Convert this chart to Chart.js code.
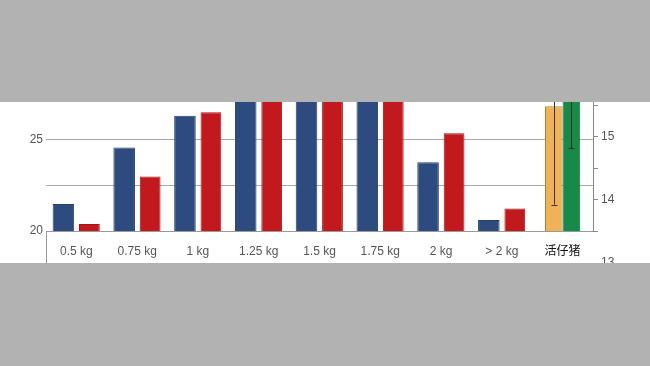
<!DOCTYPE html>
<html>
<head>
<meta charset="utf-8">
<script src="https://cdn.jsdelivr.net/npm/chart.js@4"></script>
<style>
  body { margin: 0; background: #fff; }
  #wrap { position: relative; width: 650px; height: 366px; overflow: hidden; }
  #grafico { position: absolute; left: 0; top: 0; }
  .banda { position: absolute; left: 0; width: 650px; background: #b2b2b2; z-index: 2; }
</style>
</head>
<body>
<div id="wrap">
  <canvas id="grafico" width="650" height="366"></canvas>
  <div class="banda" style="top:0;height:102px"></div>
  <div class="banda" style="top:263px;height:103px"></div>
</div>
<script>
// Datos
const categories = ['0.5 kg', '0.75 kg', '1 kg', '1.25 kg', '1.5 kg', '1.75 kg', '2 kg', '> 2 kg', '活仔猪'];
const blueValues = [21.48, 24.58, 26.33, 28.6, 28.9, 28.4, 23.77, 20.6, null];
const redValues = [20.38, 23.0, 26.52, 28.8, 28.7, 28.5, 25.37, 21.23, null];
const orangeValues = [null, null, null, null, null, null, null, null, 15.48];
const greenValues = [null, null, null, null, null, null, null, null, 15.9];
const orangeErrors = [null, null, null, null, null, null, null, null, 1.56];
const greenErrors = [null, null, null, null, null, null, null, null, 1.09];
const leftTickLabels = [20, 25];
const rightTickLabels = [13, 14, 15, 16];

const FONT = "'Liberation Sans', Arial, 'Noto Sans CJK SC', sans-serif";

// Barras de error dibujadas con la escala de cada dataset
const errorBars = {
    id: 'errorBars',
    afterDatasetsDraw(chart) {
        const ctx = chart.ctx;
        const area = chart.chartArea;
        chart.data.datasets.forEach((ds, di) => {
            if (!ds.errors) return;
            const meta = chart.getDatasetMeta(di);
            const scale = chart.scales[ds.yAxisID];
            meta.data.forEach((bar, i) => {
                const v = ds.data[i], e = ds.errors[i];
                if (v == null || e == null) return;
                const yHi = scale.getPixelForValue(v + e);
                const yLo = scale.getPixelForValue(v - e);
                const x = Math.round(bar.x) + 0.5;
                ctx.save();
                ctx.beginPath();
                ctx.rect(area.left, area.top, area.right - area.left, area.bottom - area.top);
                ctx.clip();
                ctx.strokeStyle = '#3a3020';
                ctx.lineWidth = 1;
                ctx.beginPath();
                ctx.moveTo(x, yHi); ctx.lineTo(x, yLo);
                ctx.moveTo(x - 3, Math.round(yLo) + 0.5); ctx.lineTo(x + 3, Math.round(yLo) + 0.5);
                ctx.moveTo(x - 3, Math.round(yHi) + 0.5); ctx.lineTo(x + 3, Math.round(yHi) + 0.5);
                ctx.stroke();
                ctx.restore();
            });
        });
    }
};

// El eje derecho sigue por debajo de la línea base hasta 13
const axisExtension = {
    id: 'axisExtension',
    afterDraw(chart) {
        const s = chart.scales.yRight;
        const ctx = chart.ctx;
        const y = s.getPixelForValue(rightTickLabels[0]);
        ctx.save();
        ctx.strokeStyle = '#888';
        ctx.beginPath();
        ctx.moveTo(s.left, Math.round(y) + 0.5);
        ctx.lineTo(s.left + 5, Math.round(y) + 0.5);
        ctx.stroke();
        ctx.fillStyle = '#555';
        ctx.font = '12px ' + FONT;
        ctx.textBaseline = 'middle';
        ctx.fillText(String(rightTickLabels[0]), s.left + 8, y);
        ctx.restore();
    }
};

const chart = new Chart(document.getElementById('grafico').getContext('2d'), {
    type: 'bar',
    data: {
        labels: categories,
        datasets: [
            {
                label: 'azul',
                data: blueValues,
                backgroundColor: '#2d4b7f',
                borderColor: '#24406e',
                borderWidth: 1,
                yAxisID: 'y',
                categoryPercentage: 0.855,
                barPercentage: 0.83
            },
            {
                label: 'rojo',
                data: redValues,
                backgroundColor: '#c1191d',
                borderColor: '#a81418',
                borderWidth: 1,
                yAxisID: 'y',
                categoryPercentage: 0.855,
                barPercentage: 0.8
            },
            {
                label: 'naranja',
                data: orangeValues,
                errors: orangeErrors,
                backgroundColor: '#efb257',
                borderColor: '#a98040',
                borderWidth: 1,
                yAxisID: 'yRight',
                categoryPercentage: 0.58,
                barPercentage: 1
            },
            {
                label: 'verde',
                data: greenValues,
                errors: greenErrors,
                backgroundColor: '#178a4a',
                borderColor: '#0f6634',
                borderWidth: 1,
                yAxisID: 'yRight',
                categoryPercentage: 0.58,
                barPercentage: 1
            }
        ]
    },
    options: {
        responsive: false,
        animation: false,
        skipNull: true,
        layout: { padding: { top: 42, left: 0, right: 0, bottom: 0 } },
        plugins: {
            legend: { display: false },
            tooltip: { enabled: false }
        },
        scales: {
            x: {
                offset: true,
                grid: {
                    offset: true,
                    drawOnChartArea: false,
                    drawTicks: true,
                    tickLength: 32,
                    color: (c) => (c.index === 0 || c.index === categories.length) ? '#999' : 'rgba(0,0,0,0)'
                },
                border: { display: true, color: '#999' },
                ticks: {
                    padding: -19,
                    maxRotation: 0,
                    autoSkip: false,
                    font: { family: FONT, size: 12 },
                    color: (c) => c.index === categories.length - 1 ? '#111' : '#555'
                },
                afterFit: (s) => { s.height = 135; }
            },
            y: {
                position: 'left',
                min: 20,
                max: 30.38,
                grid: { color: '#aaa', drawTicks: false },
                border: { display: false },
                ticks: {
                    stepSize: 2.5,
                    padding: 3,
                    font: { family: FONT, size: 12 },
                    color: '#555',
                    callback: (v) => leftTickLabels.includes(v) ? String(v) : ''
                },
                afterFit: (s) => { s.width = 46; }
            },
            yRight: {
                position: 'right',
                min: 13.5,
                max: 16.5,
                grid: { drawOnChartArea: false, drawTicks: true, tickLength: 5, color: '#888' },
                border: { display: true, color: '#888' },
                ticks: {
                    stepSize: 0.5,
                    padding: 3,
                    font: { family: FONT, size: 12 },
                    color: '#555',
                    callback: (v) => rightTickLabels.includes(v) ? String(v) : ''
                },
                afterFit: (s) => { s.width = 57; }
            }
        }
    },
    plugins: [errorBars, axisExtension]
});
</script>
</body>
</html>
